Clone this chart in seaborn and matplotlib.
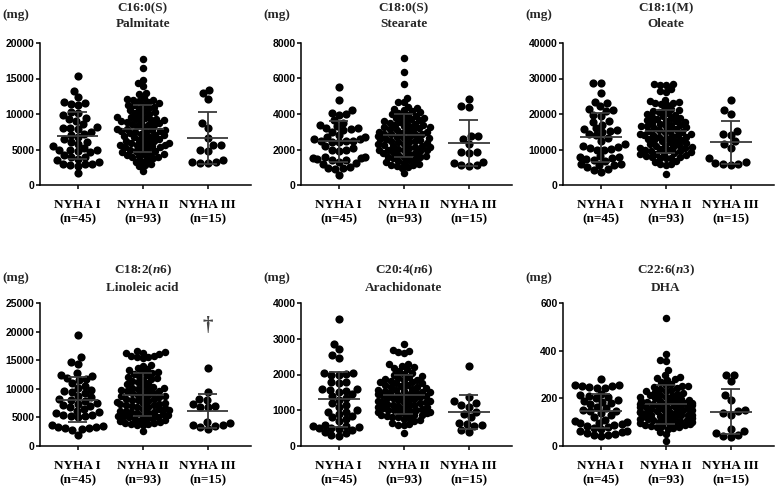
import numpy as np
import pandas as pd
import matplotlib
matplotlib.use("Agg")
import matplotlib.pyplot as plt
import seaborn as sns
import warnings
warnings.filterwarnings("ignore")

sns.set_style("ticks")
plt.rcParams['font.family'] = ['Liberation Serif', 'DejaVu Serif']
plt.rcParams['mathtext.fontset'] = 'custom'
plt.rcParams['mathtext.rm'] = 'Liberation Serif:bold'
plt.rcParams['mathtext.bf'] = 'Liberation Serif:bold'
plt.rcParams['mathtext.it'] = 'Liberation Serif:bold:italic'
plt.rcParams['mathtext.bfit'] = 'Liberation Serif:bold:italic'

groups = ["NYHA I", "NYHA II", "NYHA III"]
group_n = ["(n=45)", "(n=93)", "(n=15)"]

# ---------------- C16:0 Palmitate ----------------
palmitate_I = [15300, 13200, 12400, 11700, 11500, 11400, 11200, 10300, 10100, 9800,
               9500, 9300, 9000, 8600, 8100, 8000, 8000, 7900, 7400, 7200,
               7000, 6800, 6500, 6100, 6000, 5800, 5500, 5200, 5000, 5000,
               4900, 4800, 4600, 4200, 4000, 3900, 3700, 3500, 3300, 3000,
               3000, 2900, 2800, 2700, 1700]
palmitate_II = [17800, 16500, 14800, 14400, 13900, 13000, 12750, 12300, 12100, 12000,
                11950, 11800, 11650, 11500, 11250, 11200, 11050, 10800, 10700, 10550,
                10400, 10250, 10100, 9950, 9800, 9600, 9550, 9400, 9250, 9150,
                9100, 9000, 8900, 8850, 8700, 8600, 8450, 8400, 8250, 8100,
                7950, 7900, 7800, 7700, 7650, 7500, 7400, 7300, 7250, 7100,
                7000, 6950, 6800, 6700, 6650, 6500, 6400, 6250, 6200, 6050,
                5900, 5850, 5800, 5700, 5600, 5450, 5400, 5300, 5200, 5050,
                4950, 4800, 4750, 4600, 4500, 4400, 4300, 4250, 4100, 4000,
                3900, 3800, 3650, 3400, 3250, 3000, 2800, 2650, 2000, 11300,
                9350, 7650, 5600]
palmitate_III = [13400, 12900, 12100, 8700, 8000, 6600, 5700, 5600, 5000, 4800,
                 3500, 3200, 3100, 3100, 3200]

# ---------------- C18:0 Stearate ----------------
stearate_I = [5500, 4800, 4250, 4050, 4000, 3950, 3650, 3500, 3400, 3200,
              3300, 3200, 3150, 3100, 3000, 2800, 2600, 2500, 2500, 2400,
              2700, 2700, 2600, 2500, 2400, 2200, 2100, 2000, 1950, 1900,
              1600, 1550, 1500, 1450, 1400, 1300, 1250, 1200, 1500, 1400,
              1000, 950, 950, 900, 550]
stearate_II = [7150, 6350, 5700, 4900, 4700, 4650, 4400, 4350, 4300, 4200,
               4150, 4100, 4050, 4000, 3950, 3900, 3850, 3800, 3750, 3700,
               3650, 3600, 3550, 3500, 3450, 3400, 3350, 3300, 3250, 3200,
               3150, 3100, 3050, 3000, 3000, 2950, 2900, 2850, 2800, 2750,
               2700, 2650, 2600, 2600, 2550, 2500, 2450, 2400, 2350, 2300,
               2250, 2200, 2200, 2150, 2100, 2050, 2000, 1950, 1900, 1850,
               1800, 1750, 1700, 1650, 1600, 1550, 1500, 1450, 1400, 1350,
               1300, 1250, 1200, 1150, 1100, 1050, 1000, 950, 650, 2750,
               2500, 3100, 3400, 2000, 1800, 2300, 3600, 2900, 1600, 2150,
               2650, 3250, 1950]
stearate_III = [4850, 4450, 4400, 2750, 2750, 2600, 2300, 1850, 1850, 1800,
                1300, 1100, 1050, 1100, 1250]

# ---------------- C18:1 Oleate ----------------
oleate_I = [28800, 28700, 26000, 23500, 23000, 22200, 21300, 21100, 20900, 19800,
            19500, 18000, 17800, 17000, 16000, 15800, 15500, 15200, 15000, 14500,
            14000, 13200, 12500, 11500, 11000, 10800, 10500, 10200, 10000, 9800,
            8200, 8000, 7800, 7500, 7200, 7000, 6800, 6000, 5800, 5700,
            5500, 5000, 4500, 4200, 3800]
oleate_II = [28500, 28400, 28300, 28200, 27000, 26500, 26200, 24000, 23800, 23500,
             23200, 23000, 22800, 22500, 21500, 21200, 21000, 20800, 20500, 20200,
             19800, 19500, 19200, 18800, 18500, 18300, 18000, 17800, 17500, 17200,
             17000, 16800, 16500, 16200, 16000, 15800, 15500, 15300, 15000, 14800,
             14500, 14300, 14000, 13800, 13500, 13300, 13000, 12800, 12500, 12300,
             12000, 11800, 11500, 11300, 11000, 10800, 10500, 10300, 10200, 10000,
             9800, 9600, 9500, 9300, 9000, 8800, 8600, 8500, 8300, 8000,
             7800, 7700, 7600, 7500, 6800, 6500, 6000, 5800, 5500, 3000,
             14200, 16600, 12600, 10600, 18100, 9100, 13600, 15100, 11100, 20000,
             18900, 16600, 14100]
oleate_III = [24000, 21200, 19900, 15300, 14500, 14200, 12300, 11500, 10500, 7500,
              6500, 6300, 6000, 5600, 5800]

# ---------------- C18:2 Linoleic acid ----------------
linoleic_I = [19400, 15500, 14600, 14400, 12800, 12400, 12300, 11900, 11800, 11600,
              11000, 10500, 10200, 9800, 9600, 9500, 9200, 8800, 8500, 8200,
              8000, 7800, 7600, 7400, 7200, 7000, 6800, 6500, 6200, 6000,
              5800, 5500, 5200, 5000, 5500, 5200, 3600, 3500, 3400, 3300,
              3200, 3100, 3000, 2800, 2000]
linoleic_II = [16600, 16400, 16300, 16200, 16100, 15800, 15700, 15600, 15500, 15300,
               14200, 14000, 13600, 13400, 13200, 13000, 12800, 12600, 12400, 12200,
               12000, 11800, 11600, 11400, 11200, 11000, 10800, 10600, 10400, 10200,
               10000, 9900, 9800, 9600, 9500, 9300, 9200, 9000, 8900, 8700,
               8600, 8500, 8300, 8200, 8000, 7900, 7700, 7600, 7400, 7300,
               7200, 7000, 6900, 6800, 6600, 6500, 6400, 6200, 6100, 6000,
               5900, 5800, 5600, 5500, 5400, 5300, 5200, 5000, 4900, 4800,
               4600, 4500, 4400, 4200, 4100, 4000, 3900, 3800, 3600, 2600,
               10100, 8800, 7100, 5700, 11900, 9700, 6300, 4700, 12900, 8100,
               7500, 5100, 3700]
linoleic_III = [13700, 9400, 8200, 8100, 7000, 6800, 7400, 6900, 4200, 4000,
                3600, 3500, 3300, 2900, 3700]

# ---------------- C20:4 Arachidonate ----------------
arachidonate_I = [3550, 2850, 2700, 2550, 2450, 2050, 2050, 2020, 2000, 1980,
                  1800, 1780, 1750, 1600, 1600, 1580, 1550, 1500, 1450, 1400,
                  1350, 1300, 1200, 1150, 1100, 1000, 950, 950, 900, 850,
                  800, 750, 700, 600, 550, 550, 520, 500, 500, 480,
                  450, 400, 350, 300, 280]
arachidonate_II = [2850, 2680, 2650, 2620, 2600, 2300, 2280, 2250, 2200, 2180,
                   2150, 2100, 2050, 2000, 1950, 1920, 1900, 1880, 1850, 1820,
                   1800, 1780, 1750, 1720, 1700, 1680, 1650, 1620, 1600, 1580,
                   1560, 1540, 1520, 1500, 1480, 1460, 1440, 1420, 1400, 1380,
                   1360, 1340, 1320, 1300, 1280, 1260, 1240, 1220, 1200, 1180,
                   1160, 1140, 1120, 1100, 1080, 1060, 1040, 1020, 1000, 980,
                   960, 940, 920, 900, 880, 860, 840, 820, 800, 780,
                   750, 720, 700, 650, 620, 600, 580, 350, 1450, 1250,
                   1650, 1050, 1850, 950, 1550, 1350, 1150, 1750, 870, 2020,
                   1470, 1230, 1010]
arachidonate_III = [2250, 1380, 1250, 1200, 1150, 1100, 950, 900, 800, 650,
                    620, 580, 550, 450, 400]

# ---------------- C22:6 DHA ----------------
dha_I = [280, 258, 255, 252, 250, 248, 245, 242, 220, 215,
         210, 205, 200, 195, 190, 185, 180, 178, 165, 160,
         150, 148, 145, 140, 130, 120, 110, 105, 100, 98,
         95, 92, 90, 85, 80, 75, 70, 65, 62, 60,
         55, 50, 48, 45, 40]
dha_II = [535, 385, 360, 355, 320, 300, 290, 285, 280, 278,
          270, 262, 255, 250, 248, 245, 240, 235, 230, 225,
          222, 218, 215, 212, 210, 205, 200, 198, 195, 192,
          190, 188, 185, 182, 180, 178, 175, 172, 170, 168,
          165, 162, 160, 158, 155, 152, 150, 148, 145, 142,
          140, 138, 135, 132, 130, 128, 125, 122, 120, 118,
          115, 112, 110, 108, 105, 102, 100, 98, 95, 92,
          90, 88, 85, 82, 80, 78, 75, 72, 60, 50,
          22, 168, 142, 205, 118, 188, 96, 230, 155, 132,
          178, 110, 250]
dha_III = [300, 298, 272, 215, 195, 152, 145, 140, 130, 70,
           65, 55, 45, 40, 38]

titles_1 = ["C16:0(S)", "C18:0(S)", "C18:1(M)",
            r"C18:2($\mathbfit{n}$6)", r"C20:4($\mathbfit{n}$6)", r"C22:6($\mathbfit{n}$3)"]
titles_2 = ["Palmitate", "Stearate", "Oleate", "Linoleic acid", "Arachidonate", "DHA"]
yticks_list = [[0, 5000, 10000, 15000, 20000],
               [0, 2000, 4000, 6000, 8000],
               [0, 10000, 20000, 30000, 40000],
               [0, 5000, 10000, 15000, 20000, 25000],
               [0, 1000, 2000, 3000, 4000],
               [0, 200, 400, 600]]
panel_data = [(palmitate_I, palmitate_II, palmitate_III),
              (stearate_I, stearate_II, stearate_III),
              (oleate_I, oleate_II, oleate_III),
              (linoleic_I, linoleic_II, linoleic_III),
              (arachidonate_I, arachidonate_II, arachidonate_III),
              (dha_I, dha_II, dha_III)]

W, H = 778, 491
fig = plt.figure(figsize=(W / 100, H / 100), dpi=100)
fig.patch.set_facecolor("white")

XL, XR = -0.58, 2.67
UNIT = 65.0
axw = (XR - XL) * UNIT
positions = [(40, 43, 142), (301, 43, 142), (563, 43, 142),
             (40, 303, 143), (301, 303, 143), (563, 303, 143)]
title_y = [(8, 24), (8, 24), (8, 24), (270, 288), (270, 288), (270, 288)]
mg_y = [15, 15, 15, 278, 278, 278]

# spacing used by the swarm layout per group (points); dots are then drawn
# a bit larger so that they overlap like in the original figure
LAYOUT_SIZES = [5.0, 4.0, 5.4]
DRAW_SIZES = [5.9, 5.4, 5.9]

line_col = "#3a3a3a"
axes = []
for k in range(6):
    l, t, h = positions[k]
    ax = fig.add_axes([l / W, 1 - (t + h) / H, axw / W, h / H])
    axes.append(ax)
    vals = panel_data[k]
    df = pd.DataFrame({
        "group": np.concatenate([[groups[i]] * len(vals[i]) for i in range(3)]),
        "value": np.concatenate([np.asarray(v, float) for v in vals]),
    })
    sns.swarmplot(data=df, x="group", y="value", order=groups, color="black",
                  size=4.0, linewidth=0, ax=ax, zorder=2)
    for c in ax.collections:
        offs = c.get_offsets()
        if len(offs):
            gi = int(round(float(np.median(offs[:, 0]))))
            c.set_sizes([LAYOUT_SIZES[gi] ** 2])
            c._grp = gi
    for i in range(3):
        v = np.asarray(vals[i], float)
        m, s = v.mean(), v.std(ddof=1)
        ax.hlines(m, i - 0.32, i + 0.32, color=line_col, lw=1.3, zorder=5)
        ax.vlines(i, m - s, m + s, color=line_col, lw=1.3, zorder=5)
        ax.hlines([m - s, m + s], i - 0.15, i + 0.15, color=line_col, lw=1.3, zorder=5)
    yt = yticks_list[k]
    ax.set_ylim(0, yt[-1])
    ax.set_xlim(XL, XR)
    ax.set_yticks(yt)
    ax.set_yticklabels([str(v) for v in yt], fontfamily="Liberation Sans",
                       fontweight="bold", fontsize=7.5)
    ax.set_xticks([0, 1, 2])
    ax.set_xticklabels([f"{g}\n{n}" for g, n in zip(groups, group_n)],
                       fontfamily="Liberation Serif", fontweight="bold",
                       fontsize=9.5, linespacing=1.3)
    ax.set_xlabel("")
    ax.set_ylabel("")
    for sp in ["top", "right"]:
        ax.spines[sp].set_visible(False)
    for sp in ["left", "bottom"]:
        ax.spines[sp].set_linewidth(1.1)
        ax.spines[sp].set_color("black")
    ax.tick_params(axis="y", length=3, width=1.1, pad=1, colors="black")
    ax.tick_params(axis="x", length=3, width=1.1, pad=7, colors="black")
    ax.set_facecolor("white")

    cx = l + (1 - XL) * UNIT
    fig.text(cx / W, 1 - title_y[k][0] / H, titles_1[k], ha="center", va="center",
             fontsize=9.5, fontweight="bold", family="Liberation Serif")
    fig.text(cx / W, 1 - title_y[k][1] / H, titles_2[k], ha="center", va="center",
             fontsize=9.5, fontweight="bold", family="Liberation Serif")
    fig.text((l - 38) / W, 1 - mg_y[k] / H, "(mg)", ha="left", va="center",
             fontsize=9.5, fontweight="bold", family="Liberation Serif")
    if k == 3:
        ax.text(2, 21000, "\u2020", ha="center", va="center", fontsize=15,
                color="#444444", family="Liberation Serif", fontweight="bold")

# first draw lays out the swarms; then freeze positions and enlarge the dots
fig.canvas.draw()
for ax in axes:
    ax.set_ylim(ax.get_ylim())
    ax.set_xlim(XL, XR)
    for c in ax.collections:
        if "draw" in c.__dict__:
            del c.__dict__["draw"]
            c.set_sizes([DRAW_SIZES[getattr(c, "_grp", 0)] ** 2])
            c.set_clip_on(False)

fig.savefig("out.png", dpi=100, facecolor="white")
